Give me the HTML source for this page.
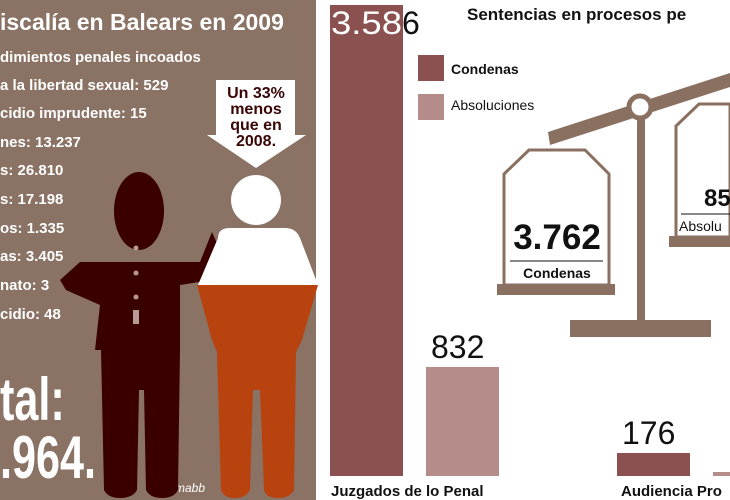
<!DOCTYPE html>
<html><head><meta charset="utf-8"><style>
html,body{margin:0;padding:0;background:#fff;}
svg{display:block;font-family:"Liberation Sans",Arial,sans-serif;}
</style></head><body>
<svg width="730" height="500" viewBox="0 0 730 500" xmlns="http://www.w3.org/2000/svg">
<rect x="0" y="0" width="316" height="500" fill="#8a7264"/>
<g fill="#fff" font-weight="bold">
<text x="0" y="30" font-size="23">iscalía en Balears en 2009</text>
<g font-size="15">
<text x="0" y="62">dimientos penales incoados</text>
<text x="0" y="90">a la libertad sexual: 529</text>
<text x="0" y="118">cidio imprudente: 15</text>
<text x="0" y="147">nes: 13.237</text>
<text x="0" y="175">s: 26.810</text>
<text x="0" y="204">s: 17.198</text>
<text x="0" y="233">os: 1.335</text>
<text x="0" y="261">as: 3.405</text>
<text x="0" y="290">nato: 3</text>
<text x="0" y="319">cidio: 48</text>
</g>
<text x="0" y="420" font-size="60" transform="translate(0,420) scale(0.72,1) translate(0,-420)">tal:</text>
<text x="0" y="478" font-size="60" transform="translate(0,478) scale(0.72,1) translate(0,-478)">.964.</text>
</g>
<text x="175" y="492" font-size="12" font-style="italic" fill="#fff">mabb</text>
<polygon points="216,80 295,80 295,135 306,135 256,168 207,135 216,135" fill="#fff"/>
<g font-size="16" font-weight="bold" fill="#3a0505" text-anchor="middle">
<text x="256" y="98">Un 33%</text>
<text x="256" y="114">menos</text>
<text x="256" y="130">que en</text>
<text x="256" y="146">2008.</text>
</g>
<g fill="#3a0000">
<ellipse cx="139" cy="211" rx="25" ry="39"/>
<path d="M112,262 L200,262 L212,232 L220,250 L212,280 L180,285 L180,350 L178,490 Q174,498 162,498 Q150,498 146,490 L144,390 L139,390 L137,490 Q133,498 120,498 Q108,498 104,490 L101,350 L95,350 L100,305 L66,290 L60,280 L80,262 Z"/>
</g>
<rect x="173" y="315" width="6" height="40" fill="#3a0000"/>
<g fill="#b79a95">
<circle cx="136" cy="248" r="2.5"/><circle cx="136" cy="273" r="2.5"/><circle cx="136" cy="297" r="2.5"/>
<rect x="133" y="310" width="6" height="14"/>
</g>
<ellipse cx="256" cy="200" rx="25" ry="25" fill="#fff"/>
<path d="M218,238 Q218,228 230,228 L285,228 Q296,228 300,238 L318,285 L198,285 Z" fill="#fff"/>
<path d="M197,285 L318,285 L302,340 L296,352 L294,490 Q290,498 278,498 Q266,498 264,490 L260,390 L253,390 L250,490 Q246,498 235,498 Q224,498 221,490 L217,352 L212,340 Z" fill="#b8430f"/>
<rect x="330" y="5" width="73" height="471" fill="#8b5151"/>
<rect x="426" y="367" width="73" height="109" fill="#b48d8a"/>
<rect x="617" y="453" width="73" height="23" fill="#8b5151"/>
<rect x="713" y="472" width="17" height="4" fill="#b48d8a"/>
<text x="331" y="34" font-size="32" fill="#fff" textLength="71" lengthAdjust="spacingAndGlyphs">3.58</text>
<text x="402" y="34" font-size="32" fill="#111">6</text>
<text x="431" y="358" font-size="32" fill="#111">832</text>
<text x="622" y="444" font-size="32" fill="#111">176</text>
<g font-size="15" font-weight="bold" fill="#111">
<text x="331" y="496">Juzgados de lo Penal</text>
<text x="621" y="496">Audiencia Pro</text>
<text x="467" y="20" font-size="17">Sentencias en procesos pe</text>
</g>
<rect x="418" y="55" width="26" height="26" fill="#8b5151"/>
<rect x="418" y="94" width="26" height="26" fill="#b48d8a"/>
<text x="451" y="74" font-size="14" font-weight="bold" fill="#111">Condenas</text>
<text x="451" y="110" font-size="14" fill="#111">Absoluciones</text>
<g fill="#8a7060">
<polygon points="548,132 730,73 730,87 550,145"/>
<rect x="637" y="112" width="8" height="210"/>
<rect x="570" y="320" width="141" height="17"/>
<rect x="497" y="284" width="118" height="11"/>
<rect x="669" y="236" width="61" height="11"/>
</g>
<circle cx="640" cy="107" r="11" fill="#fff" stroke="#8a7060" stroke-width="5"/>
<polygon points="504,285 504,174 529,150 585,150 609,174 609,285" fill="#fff" stroke="#8a7060" stroke-width="3"/>
<polygon points="676,237 676,126 699,104 730,104 730,237" fill="#fff" stroke="#8a7060" stroke-width="3"/>
<text x="557" y="249" font-size="35" font-weight="bold" fill="#111" text-anchor="middle">3.762</text>
<line x1="510" y1="261" x2="603" y2="261" stroke="#111" stroke-width="1"/>
<text x="557" y="278" font-size="14" font-weight="bold" fill="#111" text-anchor="middle">Condenas</text>
<text x="704" y="206" font-size="24" font-weight="bold" fill="#111">85</text>
<line x1="681" y1="214" x2="730" y2="214" stroke="#111" stroke-width="1"/>
<text x="679" y="231" font-size="14" fill="#111">Absolu</text>
</svg>
</body></html>
